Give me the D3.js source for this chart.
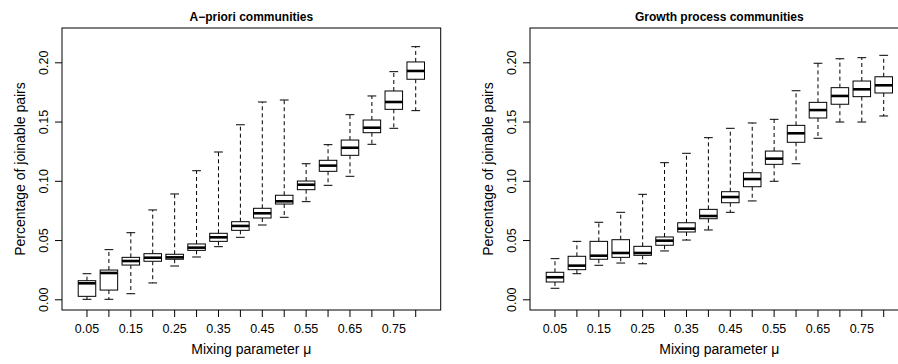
<html>
<head>
<script src="https://d3js.org/d3.v7.min.js"></script>
<style>
  body { margin: 0; background: #fff; }
  svg text { font-family: "Liberation Sans", Arial, sans-serif; fill: #000; }
  .axis text { font-size: 12.5px; }
  .axis line, .axis path { stroke: #000; }
</style>
</head>
<body>
<svg width="898" height="364"></svg>
<script>
// mixing parameter values (one box each)
const mu = [0.05, 0.10, 0.15, 0.20, 0.25, 0.30, 0.35, 0.40, 0.45, 0.50, 0.55, 0.60, 0.65, 0.70, 0.75, 0.80]
const xTickLabels = ['0.05', '0.15', '0.25', '0.35', '0.45', '0.55', '0.65', '0.75']
const yTicks = [0.00, 0.05, 0.10, 0.15, 0.20]

// A-priori communities
const aLow = [0.000, 0.000, 0.0047, 0.0138, 0.0281, 0.0357, 0.0444, 0.0523, 0.0627, 0.0692, 0.0824, 0.0962, 0.1038, 0.1308, 0.1443, 0.1592]
const aQ1 = [0.0025, 0.0078, 0.0289, 0.0321, 0.0338, 0.0413, 0.0489, 0.0582, 0.0686, 0.0804, 0.0925, 0.1080, 0.1215, 0.1406, 0.1603, 0.1857]
const aMed = [0.0135, 0.0222, 0.0323, 0.0351, 0.0354, 0.0436, 0.0523, 0.0619, 0.0726, 0.0827, 0.0967, 0.1128, 0.1279, 0.1448, 0.1665, 0.1927]
const aQ3 = [0.0157, 0.0247, 0.0354, 0.0385, 0.0380, 0.0467, 0.0557, 0.0655, 0.0768, 0.0878, 0.0998, 0.1173, 0.1344, 0.1513, 0.1758, 0.2003]
const aHigh = [0.0216, 0.0419, 0.0562, 0.0754, 0.0889, 0.1085, 0.1243, 0.1473, 0.1665, 0.1682, 0.1144, 0.1305, 0.1558, 0.1716, 0.1921, 0.2132]

// Growth process communities
const gLow = [0.0093, 0.0216, 0.0287, 0.0306, 0.0300, 0.0408, 0.0500, 0.0585, 0.0734, 0.0830, 0.0996, 0.1144, 0.1359, 0.1496, 0.1496, 0.1547]
const gQ1 = [0.0146, 0.0250, 0.0338, 0.0354, 0.0371, 0.0456, 0.0568, 0.0680, 0.0815, 0.0950, 0.1139, 0.1325, 0.1530, 0.1646, 0.1710, 0.1741]
const gMed = [0.0186, 0.0284, 0.0368, 0.0391, 0.0391, 0.0495, 0.0596, 0.0703, 0.0863, 0.1015, 0.1187, 0.1401, 0.1597, 0.1716, 0.1772, 0.1806]
const gQ3 = [0.0228, 0.0363, 0.0489, 0.0503, 0.0447, 0.0526, 0.0646, 0.0759, 0.0908, 0.1068, 0.1251, 0.1468, 0.1662, 0.1786, 0.1842, 0.1878]
const gHigh = [0.0343, 0.0489, 0.0650, 0.0734, 0.0886, 0.1153, 0.1232, 0.1364, 0.1443, 0.1488, 0.1519, 0.1760, 0.1992, 0.2030, 0.2039, 0.2059]

let svg = d3.select('svg')
let plotTop = 28, plotBottom = 310, plotW = 378.7

let yScale = d3.scaleLinear().domain([-0.00903, 0.22895]).range([plotBottom, plotTop])

function drawPanel(left, title, low, q1, med, q3, high) {
    let g = svg.append('g')
    let xScale = d3.scaleBand().domain(mu).range([left, left + plotW])
        .paddingInner(0).paddingOuter(0.64)
    let bw = xScale.bandwidth() * 0.8
    let cx = d => xScale(d) + xScale.bandwidth() / 2

    let rows = mu.map((m, i) => ({m: m, low: low[i], q1: q1[i], med: med[i], q3: q3[i], high: high[i]}))

    let box = g.selectAll('g.box').data(rows).enter().append('g').attr('class', 'box')

    // whiskers
    box.append('line')
        .attr('x1', d => cx(d.m)).attr('x2', d => cx(d.m))
        .attr('y1', d => yScale(d.q3)).attr('y2', d => yScale(d.high))
        .attr('stroke', '#000').attr('stroke-dasharray', '4,3')
    box.append('line')
        .attr('x1', d => cx(d.m)).attr('x2', d => cx(d.m))
        .attr('y1', d => yScale(d.q1)).attr('y2', d => yScale(d.low))
        .attr('stroke', '#000').attr('stroke-dasharray', '4,3')
    // staples
    box.append('line')
        .attr('x1', d => cx(d.m) - bw / 4).attr('x2', d => cx(d.m) + bw / 4)
        .attr('y1', d => yScale(d.high)).attr('y2', d => yScale(d.high))
        .attr('stroke', '#000')
    box.append('line')
        .attr('x1', d => cx(d.m) - bw / 4).attr('x2', d => cx(d.m) + bw / 4)
        .attr('y1', d => yScale(d.low)).attr('y2', d => yScale(d.low))
        .attr('stroke', '#000')
    // box
    box.append('rect')
        .attr('x', d => cx(d.m) - bw / 2)
        .attr('y', d => yScale(d.q3))
        .attr('width', bw)
        .attr('height', d => yScale(d.q1) - yScale(d.q3))
        .attr('fill', '#fff').attr('stroke', '#000')
    // median
    box.append('line')
        .attr('x1', d => cx(d.m) - bw / 2).attr('x2', d => cx(d.m) + bw / 2)
        .attr('y1', d => yScale(d.med)).attr('y2', d => yScale(d.med))
        .attr('stroke', '#000').attr('stroke-width', 2.6)

    // frame
    g.append('rect')
        .attr('x', left).attr('y', plotTop)
        .attr('width', plotW).attr('height', plotBottom - plotTop)
        .attr('fill', 'none').attr('stroke', '#000')

    // x axis
    let xAxis = g.append('g').attr('class', 'axis')
        .attr('transform', 'translate(0,' + plotBottom + ')')
        .call(d3.axisBottom(xScale).tickSize(7).tickSizeOuter(0)
            .tickFormat(d => {
                let s = d3.format('.2f')(d)
                return xTickLabels.includes(s) ? s : ''
            }))
    xAxis.select('.domain').remove()
    xAxis.selectAll('text').attr('y', 23).attr('dy', 0)

    // y axis
    let yAxis = g.append('g').attr('class', 'axis')
        .attr('transform', 'translate(' + left + ',0)')
        .call(d3.axisLeft(yScale).tickValues(yTicks).tickSize(7).tickSizeOuter(0)
            .tickFormat(d3.format('.2f')))
    yAxis.select('.domain').remove()
    yAxis.selectAll('text')
        .attr('transform', 'rotate(-90)')
        .attr('x', 0).attr('y', -14).attr('dy', 0)
        .attr('text-anchor', 'middle')

    // titles
    g.append('text')
        .attr('x', left + plotW / 2).attr('y', 20.5)
        .attr('text-anchor', 'middle')
        .style('font-size', '12px').style('font-weight', 'bold')
        .text(title)
    g.append('text')
        .attr('x', left + plotW / 2).attr('y', 354)
        .attr('text-anchor', 'middle')
        .style('font-size', '14px')
        .text('Mixing parameter \u03bc')
    g.append('text')
        .attr('transform', 'translate(' + (left - 37) + ',' + ((plotTop + plotBottom) / 2) + ') rotate(-90)')
        .attr('text-anchor', 'middle')
        .style('font-size', '14px')
        .text('Percentage of joinable pairs')
}

drawPanel(62, 'A\u2212priori communities', aLow, aQ1, aMed, aQ3, aHigh)
drawPanel(530, 'Growth process communities', gLow, gQ1, gMed, gQ3, gHigh)
</script>
</body>
</html>
